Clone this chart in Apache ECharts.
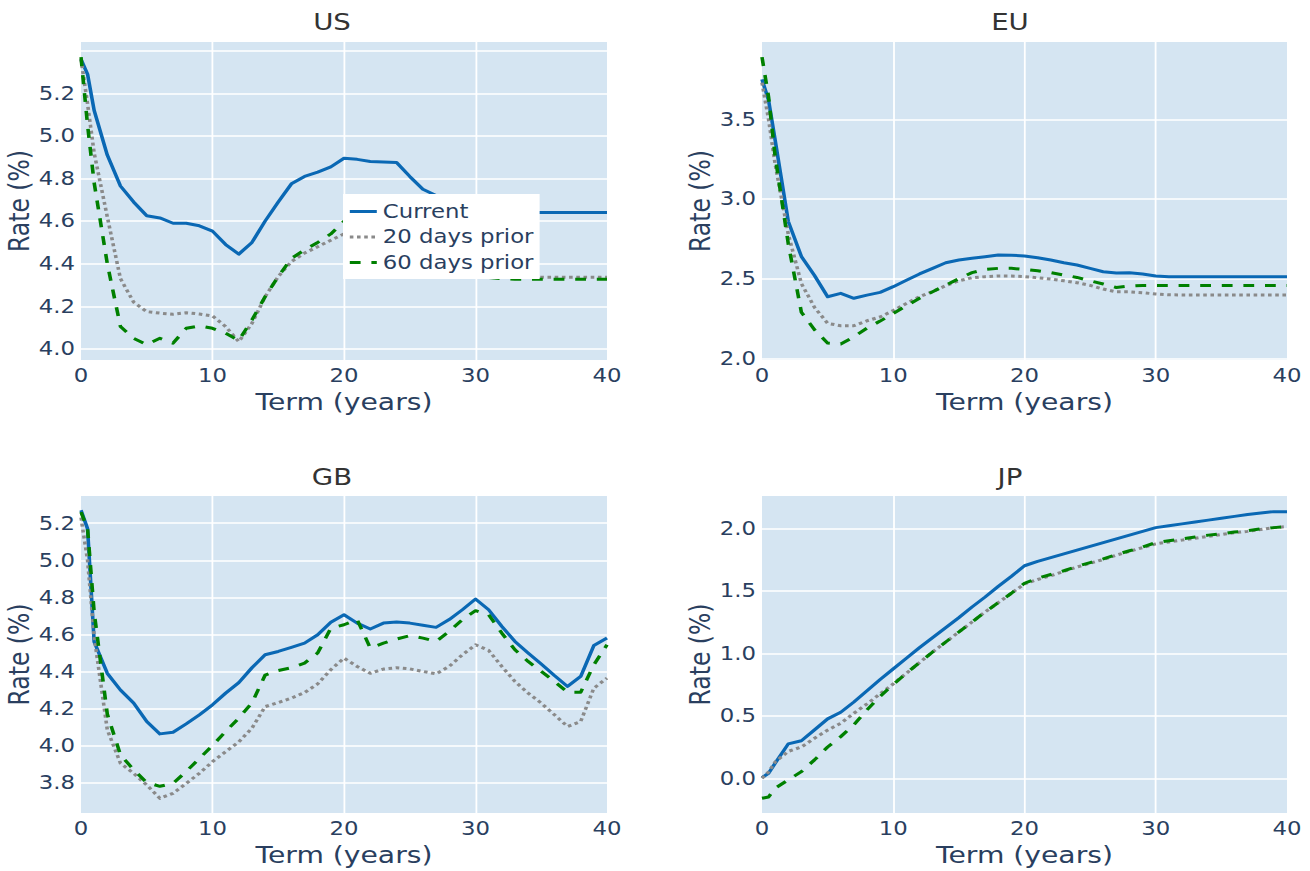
<!DOCTYPE html>
<html>
<head>
<meta charset="utf-8">
<title>Yield curves</title>
<script src="https://cdn.jsdelivr.net/npm/echarts@6/dist/echarts.min.js"></script>
<style>
  html, body { margin: 0; padding: 0; background: #fff; overflow: hidden; }
  #wrap { width: 1310px; height: 871px; overflow: hidden; }
  #chart { height: 871px; transform-origin: 0 0; }
</style>
</head>
<body>
<div id="wrap"><div id="chart"></div></div>
<script>
// Term grid (years)
const terms = [0, 0.5, 1, 2, 3, 4, 5, 6, 7, 8, 9, 10, 11, 12, 13, 14, 15, 16, 17, 18, 19, 20,
  21, 22, 23, 24, 25, 26, 27, 28, 29, 30, 31, 32, 33, 34, 35, 36, 37, 38, 39, 40];

const seriesNames = ['Current', '20 days prior', '60 days prior'];
const regionNames = ['US', 'EU', 'GB', 'JP'];

// US
const usCurrent = [5.36, 5.29, 5.12, 4.91, 4.765, 4.69, 4.625, 4.615, 4.59, 4.59, 4.578, 4.553, 4.49, 4.445,
  4.50, 4.60, 4.69, 4.775, 4.81, 4.83, 4.855, 4.895, 4.89, 4.88, 4.878, 4.875, 4.81, 4.75, 4.72, 4.69,
  4.665, 4.648, 4.645, 4.642, 4.64, 4.64, 4.64, 4.64, 4.64, 4.64, 4.64, 4.64];
const us20 = [5.36, 5.15, 4.92, 4.62, 4.33, 4.22, 4.175, 4.168, 4.163, 4.17, 4.164, 4.155, 4.105, 4.034,
  4.12, 4.245, 4.34, 4.41, 4.45, 4.48, 4.51, 4.54, 4.545, 4.54, 4.535, 4.53, 4.48, 4.43, 4.40, 4.37,
  4.35, 4.342, 4.34, 4.338, 4.336, 4.336, 4.336, 4.336, 4.336, 4.336, 4.336, 4.336];
const us60 = [5.37, 5.05, 4.78, 4.40, 4.105, 4.05, 4.02, 4.05, 4.027, 4.097, 4.108, 4.097, 4.074, 4.04,
  4.136, 4.245, 4.34, 4.425, 4.465, 4.50, 4.54, 4.60, 4.61, 4.60, 4.59, 4.585, 4.52, 4.45, 4.41, 4.38,
  4.355, 4.34, 4.335, 4.33, 4.327, 4.327, 4.327, 4.327, 4.327, 4.327, 4.327, 4.327];

// EU
const euCurrent = [3.75, 3.62, 3.37, 2.86, 2.64, 2.52, 2.387, 2.408, 2.377, 2.397, 2.414, 2.45, 2.49, 2.53,
  2.565, 2.60, 2.617, 2.628, 2.638, 2.649, 2.647, 2.643, 2.632, 2.617, 2.60, 2.586, 2.565, 2.544, 2.536,
  2.538, 2.53, 2.517, 2.513, 2.513, 2.513, 2.513, 2.513, 2.513, 2.513, 2.513, 2.513, 2.513];
const eu20 = [3.73, 3.50, 3.22, 2.78, 2.47, 2.32, 2.22, 2.205, 2.205, 2.236, 2.26, 2.30, 2.345, 2.387,
  2.42, 2.456, 2.487, 2.506, 2.513, 2.517, 2.517, 2.513, 2.506, 2.498, 2.487, 2.475, 2.458, 2.435, 2.418,
  2.418, 2.412, 2.404, 2.399, 2.398, 2.398, 2.398, 2.398, 2.398, 2.398, 2.398, 2.398, 2.398];
const eu60 = [3.89, 3.64, 3.27, 2.72, 2.29, 2.18, 2.096, 2.09, 2.136, 2.19, 2.234, 2.282, 2.33, 2.377,
  2.418, 2.46, 2.50, 2.538, 2.558, 2.565, 2.565, 2.558, 2.55, 2.538, 2.523, 2.508, 2.487, 2.467, 2.445,
  2.454, 2.458, 2.458, 2.458, 2.458, 2.458, 2.458, 2.458, 2.458, 2.458, 2.458, 2.458, 2.458];

// GB
const gbCurrent = [5.27, 5.17, 4.56, 4.39, 4.30, 4.23, 4.13, 4.063, 4.072, 4.117, 4.166, 4.22, 4.283, 4.34,
  4.42, 4.49, 4.508, 4.53, 4.553, 4.598, 4.665, 4.706, 4.661, 4.629, 4.661, 4.667, 4.661, 4.649, 4.638,
  4.68, 4.733, 4.791, 4.733, 4.643, 4.562, 4.50, 4.44, 4.378, 4.319, 4.373, 4.54, 4.58];
const gb20 = [5.23, 5.00, 4.59, 4.085, 3.905, 3.85, 3.787, 3.715, 3.742, 3.796, 3.85, 3.913, 3.967, 4.02,
  4.094, 4.21, 4.232, 4.256, 4.286, 4.333, 4.41, 4.472, 4.427, 4.39, 4.413, 4.42, 4.414, 4.40, 4.387,
  4.427, 4.49, 4.544, 4.514, 4.427, 4.346, 4.283, 4.229, 4.166, 4.103, 4.13, 4.31, 4.364];
const gb60 = [5.26, 5.17, 4.72, 4.17, 3.95, 3.87, 3.80, 3.78, 3.796, 3.86, 3.93, 4.00, 4.076, 4.148,
  4.23, 4.38, 4.405, 4.42, 4.445, 4.50, 4.634, 4.652, 4.68, 4.526, 4.553, 4.575, 4.593, 4.58, 4.562,
  4.616, 4.68, 4.728, 4.706, 4.607, 4.517, 4.454, 4.40, 4.346, 4.288, 4.288, 4.436, 4.544];

// JP
const jpCurrent = [0.005, 0.04, 0.12, 0.275, 0.30, 0.387, 0.475, 0.528, 0.61, 0.70, 0.79, 0.875, 0.96, 1.045,
  1.125, 1.205, 1.285, 1.37, 1.45, 1.535, 1.615, 1.70, 1.735, 1.765, 1.795, 1.825, 1.855, 1.885, 1.915,
  1.945, 1.975, 2.005, 2.02, 2.035, 2.05, 2.065, 2.08, 2.095, 2.11, 2.122, 2.133, 2.133];
const jp20 = [0.0, 0.05, 0.13, 0.215, 0.25, 0.32, 0.385, 0.44, 0.52, 0.595, 0.675, 0.755, 0.84, 0.925,
  1.01, 1.09, 1.17, 1.25, 1.33, 1.405, 1.48, 1.555, 1.59, 1.62, 1.655, 1.69, 1.72, 1.75, 1.785,
  1.815, 1.845, 1.875, 1.89, 1.905, 1.92, 1.935, 1.95, 1.965, 1.975, 1.99, 2.005, 2.013];
const jp60 = [-0.16, -0.15, -0.08, -0.013, 0.053, 0.147, 0.25, 0.333, 0.427, 0.547, 0.655, 0.75, 0.84, 0.925,
  1.01, 1.09, 1.17, 1.25, 1.33, 1.405, 1.48, 1.56, 1.60, 1.63, 1.66, 1.695, 1.725, 1.755, 1.79,
  1.82, 1.85, 1.885, 1.90, 1.915, 1.93, 1.945, 1.955, 1.97, 1.98, 1.995, 2.005, 2.013];

// Axis ticks per panel: gridline values and labelled values
const xTicks = [0, 10, 20, 30, 40];
const usGrid = [4.0, 4.2, 4.4, 4.6, 4.8, 5.0, 5.2, 5.4];
const usLabels = [4.0, 4.2, 4.4, 4.6, 4.8, 5.0, 5.2];
const euGrid = [2.0, 2.5, 3.0, 3.5];
const euLabels = [2.0, 2.5, 3.0, 3.5];
const gbGrid = [3.8, 4.0, 4.2, 4.4, 4.6, 4.8, 5.0, 5.2];
const gbLabels = [3.8, 4.0, 4.2, 4.4, 4.6, 4.8, 5.0, 5.2];
const jpGrid = [0.0, 0.5, 1.0, 1.5, 2.0];
const jpLabels = [0.0, 0.5, 1.0, 1.5, 2.0];

const panelData = [
  [usCurrent, us20, us60],
  [euCurrent, eu20, eu60],
  [gbCurrent, gb20, gb60],
  [jpCurrent, jp20, jp60]
];
const panelTicks = [[usGrid, usLabels], [euGrid, euLabels], [gbGrid, gbLabels], [jpGrid, jpLabels]];

// ---- drawing ----
const K = 1.2;                 // horizontal stretch of the whole figure
const X = v => v / K;          // convert on-screen x distances to layout units
const W = 1310 / K;

const FONT = '"DejaVu Sans", Verdana, sans-serif';
const NAVY = '#2a3f5f';
const PLOT_BG = '#d5e5f2';

const panels = [
  { left: 81, top: 42, width: 526, height: 318, range: [3.948, 5.441], titleX: 332, titleY: 22 },
  { left: 762, top: 42, width: 525, height: 318, range: [1.99, 3.985], titleX: 1010, titleY: 22 },
  { left: 81, top: 496, width: 526, height: 317, range: [3.636, 5.347], titleX: 332, titleY: 477 },
  { left: 762, top: 496, width: 525, height: 317, range: [-0.278, 2.258], titleX: 1010, titleY: 477 }
];

const lineStyles = [
  { color: '#0a68b4', type: 'solid' },
  { color: '#8a8a8a', type: [3, 3] },
  { color: '#008000', type: [9, 9] }
];

const chartEl = document.getElementById('chart');
chartEl.style.width = W + 'px';
chartEl.style.transform = 'scaleX(' + K + ')';

const grids = [], xAxes = [], yAxes = [], series = [], graphics = [];

panels.forEach((p, i) => {
  grids.push({
    left: X(p.left), top: p.top, width: X(p.width), height: p.height,
    show: true, backgroundColor: PLOT_BG, borderWidth: 0, containLabel: false
  });
  xAxes.push({
    type: 'value', gridIndex: i, min: 0, max: 40,
    axisLine: { show: false },
    axisTick: { show: false, customValues: xTicks },
    axisLabel: { customValues: xTicks, color: NAVY, fontSize: 19, fontFamily: FONT, margin: 6 },
    splitLine: { show: true, showMinLine: false, showMaxLine: false, lineStyle: { color: '#ffffff', width: 1.5 } },
    name: 'Term (years)', nameLocation: 'middle', nameGap: 30,
    nameTextStyle: { color: NAVY, fontSize: 23.5, fontFamily: FONT }
  });
  const [gridVals, labelVals] = panelTicks[i];
  yAxes.push({
    type: 'value', gridIndex: i, min: p.range[0], max: p.range[1],
    axisLine: { show: false },
    axisTick: { show: false, customValues: gridVals },
    axisLabel: {
      customValues: labelVals, color: NAVY, fontSize: 19, fontFamily: FONT, margin: X(6),
      formatter: v => Number(v).toFixed(1)
    },
    splitLine: { show: true, lineStyle: { color: '#ffffff', width: 1.5 } },
    name: 'Rate (%)', nameLocation: 'middle', nameGap: X(46), nameRotate: 90,
    nameTextStyle: { color: NAVY, fontSize: 23.5, fontFamily: FONT }
  });
  panelData[i].forEach((vals, j) => {
    series.push({
      type: 'line', name: seriesNames[j], xAxisIndex: i, yAxisIndex: i,
      data: terms.map((t, k) => [t, vals[k]]),
      symbol: 'none', showSymbol: false, animation: false, silent: true,
      lineStyle: { color: lineStyles[j].color, width: 3, type: lineStyles[j].type, cap: 'butt', join: 'round' },
      itemStyle: { color: lineStyles[j].color }
    });
  });
  graphics.push({
    type: 'text', x: X(p.titleX), y: p.titleY,
    style: { text: regionNames[i], fill: '#333333', font: '23px ' + FONT, align: 'center', verticalAlign: 'middle' }
  });
});

const chart = echarts.init(chartEl, null, { renderer: 'svg' });
chart.setOption({
  animation: false,
  backgroundColor: '#ffffff',
  grid: grids,
  xAxis: xAxes,
  yAxis: yAxes,
  series: series,
  graphic: graphics,
  legend: {
    data: seriesNames, orient: 'vertical',
    left: X(343), top: 194,
    backgroundColor: '#ffffff',
    padding: [8, X(6), 7, X(5)],
    itemGap: 6.5, itemWidth: X(27), itemHeight: 2,
    itemStyle: { opacity: 0 },
    lineStyle: { width: 3 },
    textStyle: { color: NAVY, fontSize: 19, fontFamily: FONT },
    selectedMode: false
  }
});
</script>
</body>
</html>
